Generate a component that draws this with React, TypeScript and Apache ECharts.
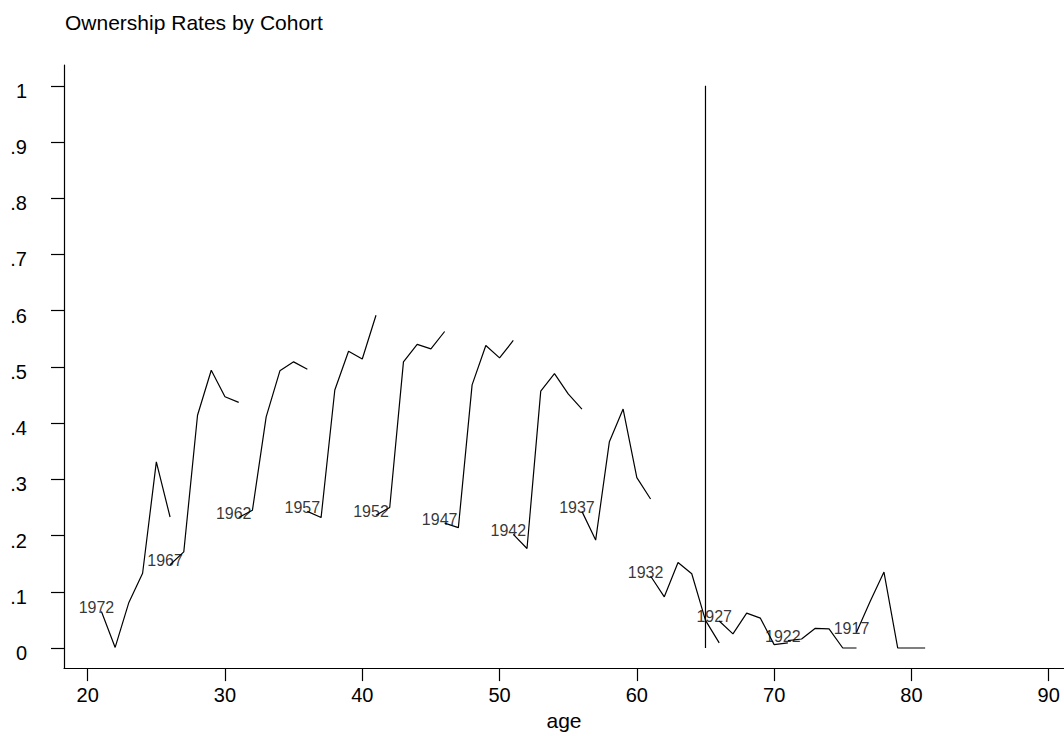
import React, { useEffect, useRef } from "react";
import * as echarts from "echarts";

const TITLE = "Ownership Rates by Cohort";
const X_NAME = "age";
const X_TICKS = [20, 30, 40, 50, 60, 70, 80, 90];
const Y_TICKS = [0, 0.1, 0.2, 0.3, 0.4, 0.5, 0.6, 0.7, 0.8, 0.9, 1];

const COHORTS = ["1972", "1967", "1962", "1957", "1952", "1947", "1942", "1937", "1932", "1927", "1922", "1917"];
const START_AGES = [21, 26, 31, 36, 41, 46, 51, 56, 61, 66, 71, 76];

const c1972 = [0.065, 0.001, 0.081, 0.133, 0.331, 0.233];
const c1967 = [0.148, 0.171, 0.414, 0.494, 0.447, 0.437];
const c1962 = [0.232, 0.245, 0.411, 0.493, 0.509, 0.496];
const c1957 = [0.243, 0.232, 0.459, 0.528, 0.514, 0.592];
const c1952 = [0.236, 0.25, 0.509, 0.54, 0.532, 0.563];
const c1947 = [0.222, 0.214, 0.468, 0.538, 0.516, 0.547];
const c1942 = [0.202, 0.177, 0.457, 0.488, 0.452, 0.425];
const c1937 = [0.243, 0.192, 0.367, 0.425, 0.303, 0.265];
const c1932 = [0.128, 0.091, 0.152, 0.132, 0.049, 0.009];
const c1927 = [0.048, 0.025, 0.062, 0.053, 0.006, 0.009];
const c1922 = [0.013, 0.016, 0.035, 0.034, 0.0, 0.0];
const c1917 = [0.028, 0.083, 0.135, 0.0, 0.0, 0.0];

const COHORT_VALUES = [c1972, c1967, c1962, c1957, c1952, c1947, c1942, c1937, c1932, c1927, c1922, c1917];

const REF_AGE = 65;
const REF_RANGE = [0, 1];

const FONT = "'Liberation Sans', Arial, Helvetica, sans-serif";

export default function App() {
  const ref = useRef<HTMLDivElement>(null);

  useEffect(() => {
    document.body.style.margin = "0";
    if (!ref.current) return;
    const chart = echarts.init(ref.current, undefined, { renderer: "svg" });

    const lineSeries = COHORTS.map((name, i) => ({
      type: "line",
      name,
      data: COHORT_VALUES[i].map((v, j) => [START_AGES[i] + j, v]),
      symbol: "none",
      lineStyle: { color: "#000", width: 1.2 },
      z: 2,
    }));

    const labelSeries = {
      type: "scatter",
      data: COHORTS.map((name, i) => ({ name, value: [START_AGES[i], COHORT_VALUES[i][0]] })),
      symbolSize: 1,
      itemStyle: { color: "rgba(0,0,0,0)" },
      label: {
        show: true,
        formatter: "{b}",
        position: "inside",
        offset: [-5, -4],
        fontSize: 16,
        fontFamily: FONT,
        color: "#000",
        textBorderWidth: 0,
        textBorderColor: "transparent",
      },
      z: 3,
    };

    const refSeries = {
      type: "line",
      data: REF_RANGE.map((v) => [REF_AGE, v]),
      symbol: "none",
      lineStyle: { color: "#000", width: 1.2 },
      z: 2,
    };

    chart.setOption({
      animation: false,
      backgroundColor: "#fff",
      title: {
        text: TITLE,
        left: 65,
        top: 12,
        padding: 0,
        textStyle: { fontSize: 21, fontWeight: "normal", color: "#000", fontFamily: FONT },
      },
      grid: { left: 64, top: 65, right: 0, bottom: 63, containLabel: false },
      xAxis: {
        type: "value",
        min: 18.274,
        max: 91.114,
        name: X_NAME,
        nameLocation: "middle",
        nameGap: 34,
        nameTextStyle: { fontSize: 21, color: "#000", fontFamily: FONT },
        axisLine: { show: true, onZero: false, lineStyle: { color: "#000", width: 1.2 } },
        axisTick: { show: true, length: 13, lineStyle: { color: "#000", width: 1.2 }, customValues: X_TICKS },
        axisLabel: {
          show: true,
          customValues: X_TICKS,
          fontSize: 20,
          color: "#000",
          fontFamily: FONT,
          margin: 17,
        },
        splitLine: { show: false },
      },
      yAxis: {
        type: "value",
        min: -0.0358,
        max: 1.0371,
        axisLine: { show: true, onZero: false, lineStyle: { color: "#000", width: 1.2 } },
        axisTick: { show: true, length: 13, lineStyle: { color: "#000", width: 1.2 }, customValues: Y_TICKS },
        axisLabel: {
          show: true,
          customValues: Y_TICKS,
          fontSize: 20,
          color: "#000",
          fontFamily: FONT,
          margin: 37,
          verticalAlign: "top",
          lineHeight: 10,
          formatter: (v: number) => {
            const s = (Math.round(v * 10) / 10).toString();
            return s.startsWith("0.") ? s.slice(1) : s;
          },
        },
        splitLine: { show: false },
      },
      series: [...lineSeries, refSeries, labelSeries],
    });

    return () => chart.dispose();
  }, []);

  return <div ref={ref} style={{ width: 1064, height: 736 }} />;
}
